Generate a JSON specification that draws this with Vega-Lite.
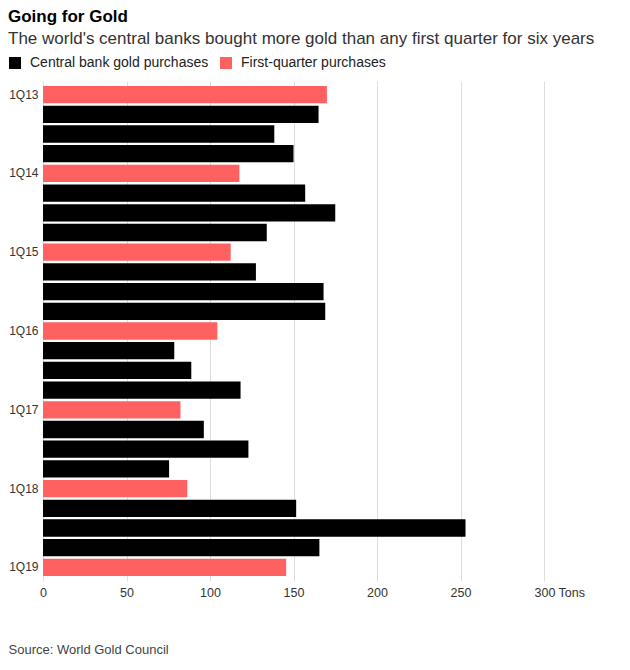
{
  "$schema": "https://vega.github.io/schema/vega-lite/v6.json",
  "width": 501,
  "height": 500,
  "padding": {"left": 8, "top": 8, "right": 10, "bottom": 10},
  "background": "#ffffff",
  "config": {
    "font": "Liberation Sans",
    "view": {"stroke": null}
  },
  "title": {
    "text": "Going for Gold",
    "subtitle": "The world's central banks bought more gold than any first quarter for six years",
    "anchor": "start",
    "frame": "bounds",
    "fontSize": 17,
    "fontWeight": "bold",
    "color": "#000000",
    "subtitleFontSize": 17,
    "subtitleColor": "#333333",
    "subtitlePadding": 5,
    "offset": 8
  },
  "data": {
    "values": [
      {"quarter": "1Q13", "tons": 170, "type": "First-quarter purchases"},
      {"quarter": "2Q13", "tons": 165, "type": "Central bank gold purchases"},
      {"quarter": "3Q13", "tons": 138.5, "type": "Central bank gold purchases"},
      {"quarter": "4Q13", "tons": 150, "type": "Central bank gold purchases"},
      {"quarter": "1Q14", "tons": 117.6, "type": "First-quarter purchases"},
      {"quarter": "2Q14", "tons": 157, "type": "Central bank gold purchases"},
      {"quarter": "3Q14", "tons": 175, "type": "Central bank gold purchases"},
      {"quarter": "4Q14", "tons": 134, "type": "Central bank gold purchases"},
      {"quarter": "1Q15", "tons": 112.4, "type": "First-quarter purchases"},
      {"quarter": "2Q15", "tons": 127.5, "type": "Central bank gold purchases"},
      {"quarter": "3Q15", "tons": 168, "type": "Central bank gold purchases"},
      {"quarter": "4Q15", "tons": 169, "type": "Central bank gold purchases"},
      {"quarter": "1Q16", "tons": 104.4, "type": "First-quarter purchases"},
      {"quarter": "2Q16", "tons": 78.6, "type": "Central bank gold purchases"},
      {"quarter": "3Q16", "tons": 88.8, "type": "Central bank gold purchases"},
      {"quarter": "4Q16", "tons": 118.3, "type": "Central bank gold purchases"},
      {"quarter": "1Q17", "tons": 82.3, "type": "First-quarter purchases"},
      {"quarter": "2Q17", "tons": 96.3, "type": "Central bank gold purchases"},
      {"quarter": "3Q17", "tons": 123, "type": "Central bank gold purchases"},
      {"quarter": "4Q17", "tons": 75.5, "type": "Central bank gold purchases"},
      {"quarter": "1Q18", "tons": 86.4, "type": "First-quarter purchases"},
      {"quarter": "2Q18", "tons": 151.6, "type": "Central bank gold purchases"},
      {"quarter": "3Q18", "tons": 253, "type": "Central bank gold purchases"},
      {"quarter": "4Q18", "tons": 165.5, "type": "Central bank gold purchases"},
      {"quarter": "1Q19", "tons": 145.6, "type": "First-quarter purchases"}
    ]
  },
  "mark": {"type": "bar"},
  "encoding": {
    "y": {
      "field": "quarter",
      "type": "nominal",
      "sort": null,
      "scale": {"paddingInner": 0.12, "paddingOuter": 0.25},
      "axis": {
        "title": null,
        "domain": false,
        "ticks": false,
        "labelPadding": 5,
        "labelFontSize": 12,
        "labelColor": "#333333",
        "labelExpr": "substring(datum.value, 0, 2) == '1Q' ? datum.value : ''"
      }
    },
    "x": {
      "field": "tons",
      "type": "quantitative",
      "scale": {"domain": [0, 300], "nice": false},
      "axis": {
        "values": [0, 50, 100, 150, 200, 250, 300],
        "labelExpr": "datum.value == 300 ? '300 Tons' : datum.label",
        "labelAlign": {"condition": {"test": "datum.value == 300", "value": "left"}, "value": "center"},
        "labelOffset": {"condition": {"test": "datum.value == 300", "value": -10}, "value": 0},
        "domain": false,
        "ticks": false,
        "grid": true,
        "gridColor": "#dddddd",
        "gridWidth": 1,
        "labelPadding": 5,
        "labelFontSize": 12.5,
        "labelColor": "#333333",
        "title": "Source: World Gold Council",
        "titleAnchor": "start",
        "titleAlign": "left",
        "titleBaseline": "top",
        "titleX": -35,
        "titleY": 62,
        "titleFontSize": 13,
        "titleFontWeight": "normal",
        "titleColor": "#444444"
      }
    },
    "color": {
      "field": "type",
      "type": "nominal",
      "scale": {
        "domain": ["Central bank gold purchases", "First-quarter purchases"],
        "range": ["#000000", "#ff6161"]
      },
      "legend": {
        "title": null,
        "orient": "none",
        "direction": "horizontal",
        "legendX": -35,
        "legendY": -25,
        "symbolType": "square",
        "symbolSize": 144,
        "symbolStrokeWidth": 0,
        "labelFontSize": 14,
        "labelLimit": 400,
        "labelColor": "#222222",
        "labelOffset": 8,
        "columnPadding": 10
      }
    }
  }
}
